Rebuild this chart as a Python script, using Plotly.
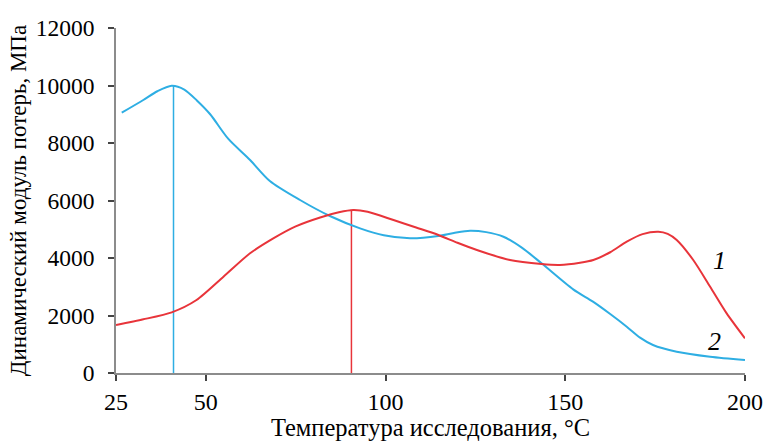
import plotly.graph_objects as go

# Curve 1 (red)
x1 = [25, 32.6, 40.5, 47.4, 54.9, 62.3, 69, 75, 81.8, 87, 91, 95, 102.2, 108.5, 114.7, 120, 125.4,
      134.6, 143.4, 148.5, 154.1, 157.8, 162.5, 167.1, 171.5, 175.9, 178.5, 181, 185.6, 190.3,
      194.9, 200]
y1 = [1670, 1866, 2110, 2539, 3350, 4163, 4700, 5100, 5410, 5590, 5670, 5610, 5321, 5060, 4800,
      4530, 4278, 3930, 3791, 3760, 3837, 3930, 4200, 4567, 4830, 4914, 4840, 4626, 3930, 3002,
      2076, 1206]
# Curve 2 (blue)
x2 = [26.6, 32.6, 36.5, 40.5, 44, 47.5, 51.2, 56.2, 62.3, 67.8, 76.2, 84.5, 92.9, 99.5, 106.8,
      114.7, 119, 123.5, 128, 132.8, 138, 143.4, 152.2, 157.7, 162.5, 167.1, 170.8, 174.4, 181,
      190.3, 200]
y2 = [9053, 9495, 9800, 9990, 9860, 9480, 9000, 8150, 7408, 6678, 6017, 5461, 5032, 4790, 4684,
      4765, 4870, 4950, 4900, 4740, 4350, 3815, 2910, 2480, 2050, 1610, 1230, 974, 741, 567, 452]

# Peak markers (vertical lines)
peak1_x, peak1_y = 90.5, 5670
peak2_x, peak2_y = 41.0, 10000

xtick_vals = [25, 50, 100, 150, 200]
xtick_text = ["25", "50", "100", "150", "200"]
ytick_vals = [0, 2000, 4000, 6000, 8000, 10000, 12000]
ytick_text = ["0", "2000", "4000", "6000", "8000", "10000", "12000"]

red = "#e8343a"
blue = "#2eaee3"
serif = "Liberation Serif"

fig = go.Figure()
fig.add_trace(go.Scatter(x=[peak2_x, peak2_x], y=[0, peak2_y], mode="lines",
                         line=dict(color=blue, width=1.5), showlegend=False))
fig.add_trace(go.Scatter(x=[peak1_x, peak1_x], y=[0, peak1_y], mode="lines",
                         line=dict(color=red, width=1.5), showlegend=False))
fig.add_trace(go.Scatter(x=x2, y=y2, mode="lines",
                         line=dict(color=blue, width=2, shape="spline", smoothing=0.8),
                         showlegend=False))
fig.add_trace(go.Scatter(x=x1, y=y1, mode="lines",
                         line=dict(color=red, width=2, shape="spline", smoothing=0.7),
                         showlegend=False))

fig.add_annotation(x=193, y=3900, text="<i>1</i>", showarrow=False,
                   font=dict(family=serif, size=26, color="black"))
fig.add_annotation(x=191.5, y=1100, text="<i>2</i>", showarrow=False,
                   font=dict(family=serif, size=26, color="black"))

fig.update_layout(
    width=766, height=441,
    margin=dict(l=116, r=21, t=28, b=68, autoexpand=False),
    paper_bgcolor="white", plot_bgcolor="white",
    font=dict(family=serif, size=23.5, color="black"),
    xaxis=dict(range=[25, 200], tickvals=xtick_vals, ticktext=xtick_text,
               showgrid=False, zeroline=False, automargin=False,
               showline=True, linecolor="#8c8c8c", linewidth=1.5,
               ticks="outside", ticklen=6, tickcolor="#444", tickwidth=1.5,
               tickfont=dict(family=serif, size=24, color="black"), ticklabelstandoff=0,
               title=dict(text="Температура исследования, °С",
                          font=dict(family=serif, size=24.5, color="black"), standoff=0)),
    yaxis=dict(range=[0, 12000], tickvals=ytick_vals, ticktext=ytick_text,
               showgrid=False, zeroline=False, automargin=False,
               showline=True, linecolor="#8c8c8c", linewidth=1.5,
               ticks="outside", ticklen=6, tickcolor="#444", tickwidth=1.5,
               tickfont=dict(family=serif, size=23.5, color="black"), ticklabelstandoff=9,
               title=dict(text="Динамический модуль потерь, МПа",
                          font=dict(family=serif, size=23, color="black"), standoff=3)),
)

fig.write_html("out.html")
